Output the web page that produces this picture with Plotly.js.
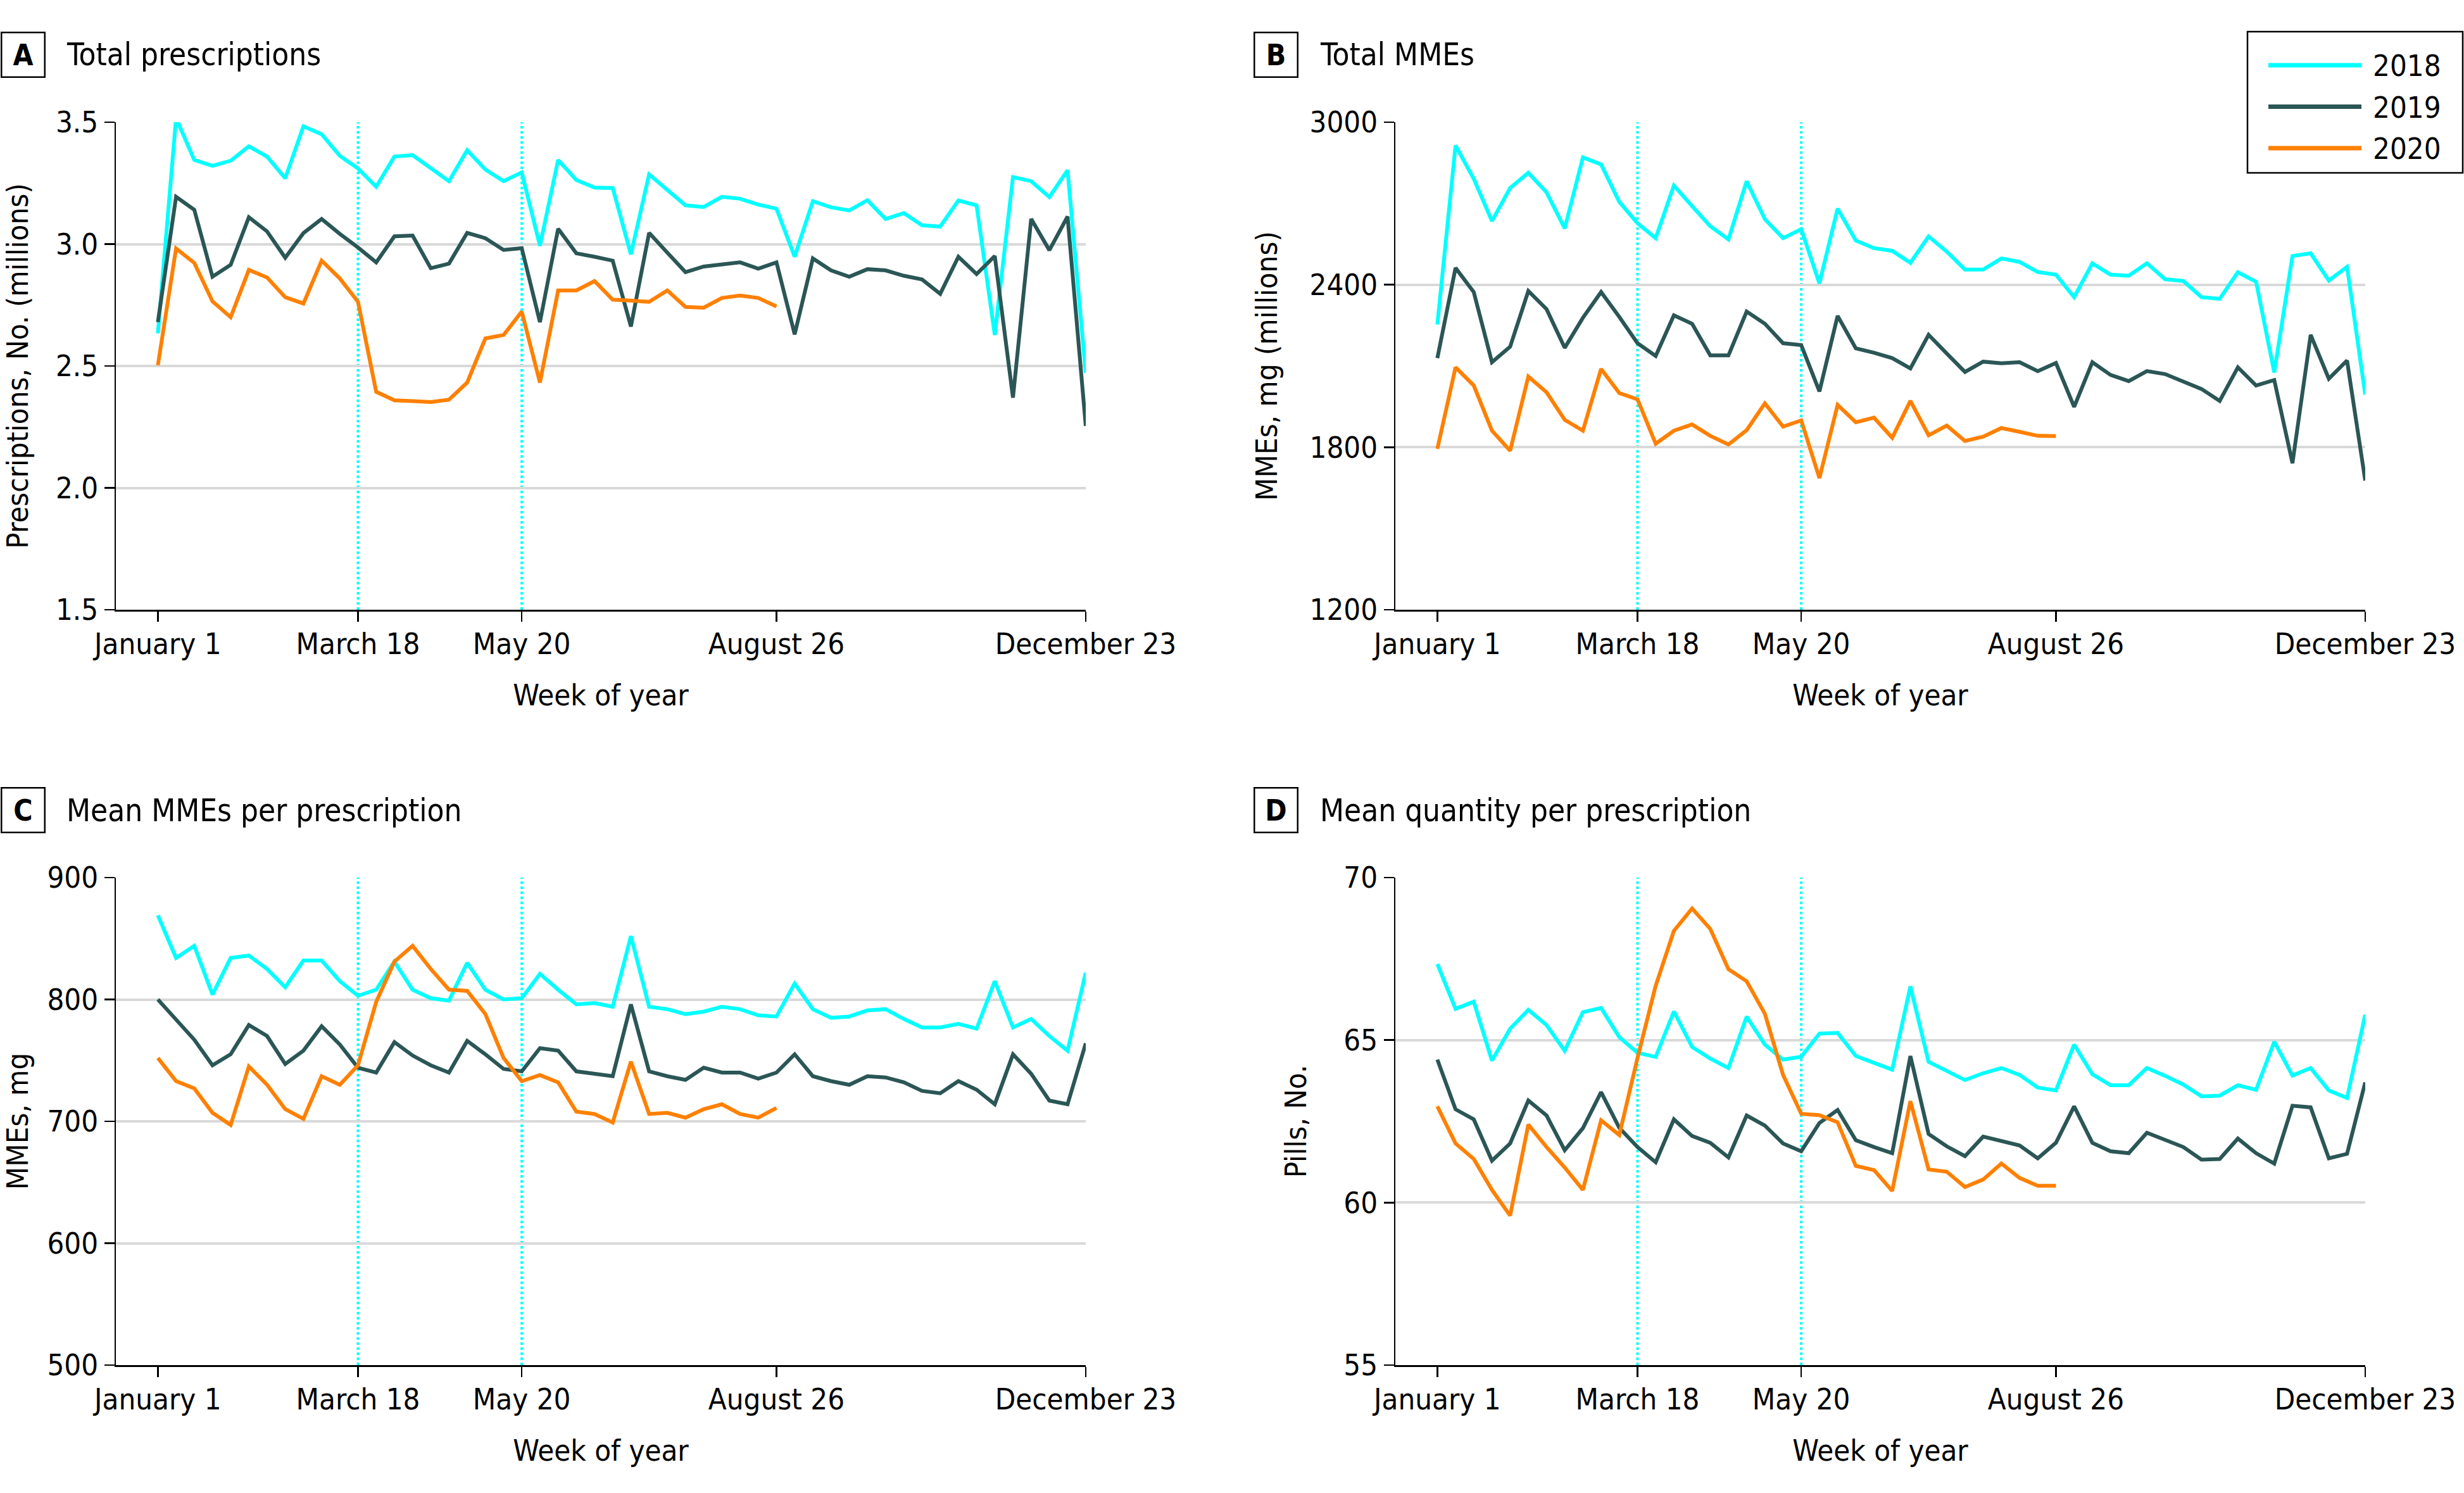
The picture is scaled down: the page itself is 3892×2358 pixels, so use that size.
<!DOCTYPE html>
<html>
<head>
<meta charset="utf-8">
<script src="https://cdn.plot.ly/plotly-3.0.1.min.js"></script>
<style>
  html, body { margin: 0; padding: 0; background: #ffffff; }
  #chart { width: 3892px; height: 2358px; }
</style>
</head>
<body>
<div id="chart"></div>
<script>
// ---------------- DATA ----------------
const weeks = [0,1,2,3,4,5,6,7,8,9,10,11,12,13,14,15,16,17,18,19,20,21,22,23,24,25,
               26,27,28,29,30,31,32,33,34,35,36,37,38,39,40,41,42,43,44,45,46,47,48,49,50,51];
const tickWeeks = [0, 11, 20, 34, 51];
const tickLabels = ["January 1", "March 18", "May 20", "August 26", "December 23"];
const markerWeeks = [11, 20];
const years = ["2018", "2019", "2020"];
const yearColors = ["#00FFFF", "#2B5656", "#FF8000"];

const panelLetters = ["A", "B", "C", "D"];
const panelTitles = ["Total prescriptions", "Total MMEs", "Mean MMEs per prescription", "Mean quantity per prescription"];
const yTitles = ["Prescriptions, No. (millions)", "MMEs, mg (millions)", "MMEs, mg", "Pills, No."];

// A: Total prescriptions (millions)
const rxTotal2018 = [2.634,3.517,3.345,3.321,3.342,3.401,3.359,3.270,3.483,3.451,3.362,3.310,3.235,3.359,3.365,3.310,3.258,3.385,3.306,3.258,3.294,2.993,3.345,3.263,3.232,3.230,2.958,3.286,3.225,3.159,3.152,3.194,3.186,3.162,3.145,2.948,3.176,3.151,3.138,3.180,3.103,3.127,3.077,3.072,3.179,3.159,2.627,3.275,3.258,3.193,3.303,2.472];
const rxTotal2019 = [2.680,3.194,3.141,2.866,2.915,3.110,3.052,2.944,3.045,3.103,3.042,2.986,2.925,3.032,3.035,2.901,2.920,3.046,3.024,2.976,2.983,2.680,3.063,2.962,2.948,2.932,2.662,3.046,2.965,2.885,2.908,2.917,2.925,2.899,2.925,2.630,2.941,2.892,2.866,2.897,2.892,2.870,2.855,2.796,2.948,2.877,2.951,2.370,3.103,2.975,3.113,2.254];
const rxTotal2020 = [2.503,2.982,2.923,2.765,2.700,2.894,2.863,2.782,2.756,2.932,2.859,2.763,2.394,2.359,2.356,2.352,2.362,2.432,2.613,2.627,2.723,2.432,2.810,2.810,2.848,2.772,2.768,2.763,2.810,2.742,2.739,2.779,2.789,2.779,2.744];

// B: Total MMEs (mg, millions)
const mmeTotal2018 = [2253,2914,2791,2635,2757,2813,2741,2608,2870,2844,2706,2627,2572,2766,2690,2616,2567,2782,2642,2572,2605,2405,2681,2563,2535,2525,2481,2578,2522,2456,2456,2497,2484,2447,2437,2354,2479,2437,2433,2479,2420,2414,2354,2348,2446,2411,2076,2506,2516,2415,2466,1994];
const mmeTotal2019 = [2129,2462,2373,2114,2171,2377,2310,2167,2278,2373,2281,2184,2137,2287,2256,2139,2139,2301,2256,2184,2177,2006,2285,2165,2149,2129,2091,2215,2146,2078,2116,2110,2114,2081,2111,1949,2114,2067,2044,2081,2070,2044,2015,1971,2095,2028,2048,1741,2215,2053,2120,1677];
const mmeTotal2020 = [1794,2095,2028,1861,1787,2061,2003,1901,1861,2089,2000,1977,1813,1861,1884,1842,1810,1863,1962,1876,1899,1686,1956,1892,1909,1835,1971,1844,1880,1823,1839,1871,1857,1842,1841];

// C: Mean MMEs per prescription (mg)
const mmeMean2018 = [869,834,844,804,834,836,825,810,832,832,815,803,808,831,808,801,799,830,808,800,801,821,808,796,797,794,852,794,792,788,790,794,792,787,786,813,792,785,786,791,792,784,777,777,780,776,815,777,784,770,758,822];
const mmeMean2019 = [800,783,767,746,755,779,770,747,758,778,763,744,740,765,754,746,740,766,755,743,741,760,758,741,739,737,796,741,737,734,744,740,740,735,740,755,737,733,730,737,736,732,725,723,733,726,714,755,739,717,714,764];
const mmeMean2020 = [752,733,727,707,697,745,730,710,702,737,730,746,798,831,844,825,808,807,788,752,733,738,732,708,706,699,749,706,707,703,710,714,706,703,711];

// D: Mean quantity per prescription (pills)
const qtyMean2018 = [67.34,65.96,66.18,64.37,65.35,65.93,65.46,64.67,65.86,65.99,65.09,64.61,64.48,65.88,64.79,64.43,64.14,65.72,64.86,64.40,64.49,65.20,65.22,64.51,64.30,64.09,66.65,64.33,64.05,63.77,63.98,64.14,63.93,63.54,63.45,64.86,63.95,63.61,63.61,64.14,63.90,63.63,63.27,63.29,63.61,63.47,64.95,63.91,64.14,63.45,63.22,65.78];
const qtyMean2019 = [64.40,62.87,62.56,61.29,61.82,63.14,62.68,61.61,62.29,63.40,62.30,61.71,61.24,62.56,62.05,61.84,61.39,62.68,62.37,61.82,61.58,62.45,62.85,61.92,61.71,61.52,64.51,62.11,61.73,61.43,62.03,61.89,61.76,61.36,61.84,62.96,61.84,61.58,61.52,62.15,61.94,61.71,61.32,61.34,61.97,61.52,61.20,62.98,62.93,61.36,61.50,63.70];
const qtyMean2020 = [62.96,61.82,61.34,60.39,59.60,62.40,61.71,61.08,60.39,62.53,62.08,64.45,66.67,68.36,69.05,68.42,67.18,66.81,65.81,63.93,62.73,62.69,62.47,61.13,61.00,60.36,63.12,61.02,60.95,60.48,60.71,61.20,60.76,60.52,60.52];

const yTicksA = [1.5, 2.0, 2.5, 3.0, 3.5];
const yTicksB = [1200, 1800, 2400, 3000];
const yTicksC = [500, 600, 700, 800, 900];
const yTicksD = [55, 60, 65, 70];

// ---------------- LAYOUT ----------------
const W = 3892, H = 2358;
const FONT = "'DejaVu Sans Condensed', 'DejaVu Sans', sans-serif";
const px = v => v / W;
const py = v => 1 - v / H;

const panels = [
  { series: [rxTotal2018, rxTotal2019, rxTotal2020], ticks: yTicksA, fmt: ".1f",
    xd: [183, 1715], yd: [193, 963], box: [36.5, 86], titleX: 103, yStand: 34 },
  { series: [mmeTotal2018, mmeTotal2019, mmeTotal2020], ticks: yTicksB, fmt: "d",
    xd: [2204, 3736], yd: [193, 963], box: [2015.5, 86], titleX: 2083, yStand: 36 },
  { series: [mmeMean2018, mmeMean2019, mmeMean2020], ticks: yTicksC, fmt: "d",
    xd: [183, 1715], yd: [1386, 2156], box: [36.5, 1279], titleX: 103, yStand: 18 },
  { series: [qtyMean2018, qtyMean2019, qtyMean2020], ticks: yTicksD, fmt: "d",
    xd: [2204, 3736], yd: [1386, 2156], box: [2015.5, 1279], titleX: 2083, yStand: 44 }
];

const xRange = [-2.31, 51];
const traces = [];
const layout = {
  width: W, height: H,
  margin: { l: 0, r: 0, t: 0, b: 0, pad: 0 },
  paper_bgcolor: "#ffffff", plot_bgcolor: "#ffffff",
  font: { family: FONT, size: 47, color: "#000000" },
  showlegend: false,
  hovermode: false,
  shapes: [],
  annotations: []
};

panels.forEach((p, i) => {
  const n = i === 0 ? "" : String(i + 1);
  const xName = "x" + n, yName = "y" + n;
  p.series.forEach((vals, k) => {
    traces.push({
      type: "scatter", mode: "lines", name: years[k],
      x: weeks.slice(0, vals.length), y: vals,
      xaxis: xName, yaxis: yName,
      line: { color: yearColors[k], width: 6, shape: "linear" },
      showlegend: false
    });
  });
  const lo = p.ticks[0], hi = p.ticks[p.ticks.length - 1];
  layout["xaxis" + n] = {
    domain: [px(p.xd[0]), px(p.xd[1])], anchor: yName,
    range: xRange, tickmode: "array", tickvals: tickWeeks, ticktext: tickLabels,
    ticks: "outside", ticklen: 16, tickwidth: 2.5, tickcolor: "#000",
    ticklabelstandoff: -5,
    showline: true, linecolor: "#000", linewidth: 2.5, mirror: false,
    showgrid: false, zeroline: false, fixedrange: true,
    tickfont: { family: FONT, size: 47, color: "#000" },
    title: { text: "Week of year", font: { family: FONT, size: 47, color: "#000" }, standoff: 38 }
  };
  layout["yaxis" + n] = {
    domain: [py(p.yd[1]), py(p.yd[0])], anchor: xName,
    range: [lo, hi], tickmode: "array", tickvals: p.ticks, tickformat: p.fmt,
    ticks: "outside", ticklen: 16, tickwidth: 2.5, tickcolor: "#000",
    showline: true, linecolor: "#000", linewidth: 2.5,
    showgrid: true, gridcolor: "#D9D9D9", gridwidth: 4, zeroline: false, fixedrange: true,
    tickfont: { family: FONT, size: 47, color: "#000" },
    title: { text: yTitles[i], font: { family: FONT, size: 47, color: "#000" }, standoff: p.yStand }
  };
  markerWeeks.forEach(w => {
    layout.shapes.push({
      type: "line", xref: xName, yref: yName + " domain",
      x0: w, x1: w, y0: 0, y1: 1, layer: "below",
      line: { color: "#00FFFF", width: 4, dash: "dot" }
    });
  });
  // panel letter box
  layout.annotations.push({
    xref: "paper", yref: "paper", x: px(p.box[0]), y: py(p.box[1]),
    xanchor: "center", yanchor: "middle", showarrow: false,
    text: "<b>" + panelLetters[i] + "</b>", width: 66, height: 68,
    bordercolor: "#000", borderwidth: 2.5, borderpad: 0,
    font: { family: FONT, size: 46, color: "#000" }
  });
  // panel title
  layout.annotations.push({
    xref: "paper", yref: "paper", x: px(p.titleX), y: py(p.box[1] + 1),
    xanchor: "left", yanchor: "middle", showarrow: false,
    text: panelTitles[i], font: { family: FONT, size: 49, color: "#000" }
  });
});

// legend (drawn top right)
layout.shapes.push({
  type: "rect", xref: "paper", yref: "paper",
  x0: px(3550), x1: px(3890), y0: py(273), y1: py(50),
  line: { color: "#000", width: 2.5 }, fillcolor: "rgba(255,255,255,0)"
});
years.forEach((yr, k) => {
  const yy = 103 + 65.5 * k;
  layout.shapes.push({
    type: "line", xref: "paper", yref: "paper",
    x0: px(3583), x1: px(3730), y0: py(yy), y1: py(yy),
    line: { color: yearColors[k], width: 7 }
  });
  layout.annotations.push({
    xref: "paper", yref: "paper", x: px(3746), y: py(yy + 1),
    xanchor: "left", yanchor: "middle", showarrow: false,
    text: yr, font: { family: FONT, size: 47, color: "#000" }
  });
});

Plotly.newPlot("chart", traces, layout, { staticPlot: true, displayModeBar: false });
</script>
</body>
</html>
